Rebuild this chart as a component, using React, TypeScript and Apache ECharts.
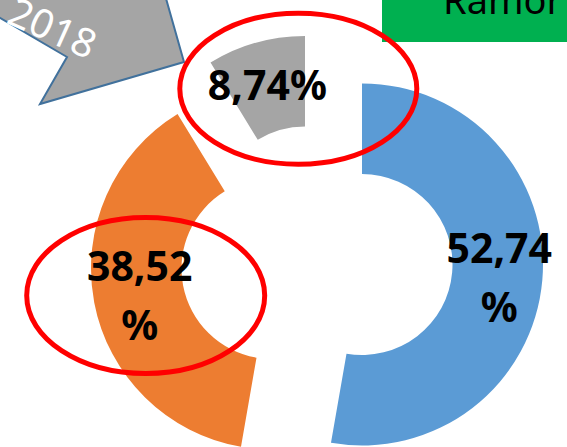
import React, { useEffect, useRef } from 'react';
import * as echarts from 'echarts';

const categories = ['Fatia 1', 'Fatia 2', 'Fatia 3'];
const values = [52.74, 38.52, 8.74];
const colors = ['#5B9BD5', '#ED7D31', '#A5A5A5'];
const arrowText = '2018';
const boxText = 'Ramor';

// layout: exploded ring centres (px)
const centers: [number, number][] = [
  [362, 264.5],
  [272, 268.5],
  [305, 217],
];
const labelOffsets: [number, number][] = [
  [-1, 0],
  [4, 0],
  [0, 1],
];

function fmt(v: number): string {
  const s = v.toFixed(2).replace('.', ',');
  return v >= 20 ? s + '\n%' : s + '%';
}

export default function App() {
  const ref = useRef<HTMLDivElement>(null);
  useEffect(() => {
    document.body.style.margin = '0';
    const chart = echarts.init(ref.current!, null, { renderer: 'svg' });
    const series = values.map((_, i) => ({
      type: 'pie',
      center: centers[i],
      radius: [90.5, 181],
      startAngle: 90,
      clockwise: true,
      silent: true,
      avoidLabelOverlap: false,
      labelLine: { show: false },
      label: {
        position: 'inside',
        formatter: (p: any) => fmt(p.value),
        fontSize: 41,
        fontWeight: 'bold',
        fontFamily: '"Noto Sans", sans-serif',
        color: '#000',
        lineHeight: 59,
        offset: labelOffsets[i],
      },
      z: 2,
      data: values.map((v, j) => ({
        name: categories[j],
        value: v,
        itemStyle: {
          color: j === i ? colors[i] : 'rgba(0,0,0,0)',
          borderWidth: 0,
        },
        label: { show: j === i },
      })),
    }));
    chart.setOption({
      animation: false,
      backgroundColor: '#fff',
      series,
      graphic: [
        {
          type: 'polygon',
          z: 10,
          shape: {
            points: [
              [-5, 15],
              [67, 57],
              [40, 104],
              [184, 62],
              [165, -5],
              [-5, -5],
            ],
          },
          style: { fill: '#A5A5A5', stroke: '#41719C', lineWidth: 2 },
        },
        {
          type: 'text',
          z: 11,
          x: 53,
          y: 27,
          rotation: -0.42,
          style: {
            text: arrowText,
            fill: '#fff',
            fontSize: 40,
            fontFamily: '"Noto Sans", sans-serif',
            align: 'center',
            verticalAlign: 'middle',
          },
        },
        {
          type: 'rect',
          z: 10,
          shape: { x: 382, y: -5, width: 200, height: 47 },
          style: { fill: '#00B050' },
        },
        {
          type: 'text',
          z: 11,
          x: 443,
          y: 18,
          style: {
            text: boxText,
            fill: '#000',
            fontSize: 38,
            fontFamily: '"Noto Sans", sans-serif',
            align: 'left',
            verticalAlign: 'bottom',
          },
        },
        {
          type: 'ellipse',
          z: 12,
          shape: { cx: 298.3, cy: 88.7, rx: 118.5, ry: 75.5 },
          style: { fill: 'none', stroke: '#FF0000', lineWidth: 5 },
        },
        {
          type: 'ellipse',
          z: 12,
          shape: { cx: 145.7, cy: 295.5, rx: 119, ry: 78 },
          style: { fill: 'none', stroke: '#FF0000', lineWidth: 5 },
        },
      ],
    });
    return () => chart.dispose();
  }, []);
  return <div ref={ref} style={{ width: 567, height: 447 }} />;
}
